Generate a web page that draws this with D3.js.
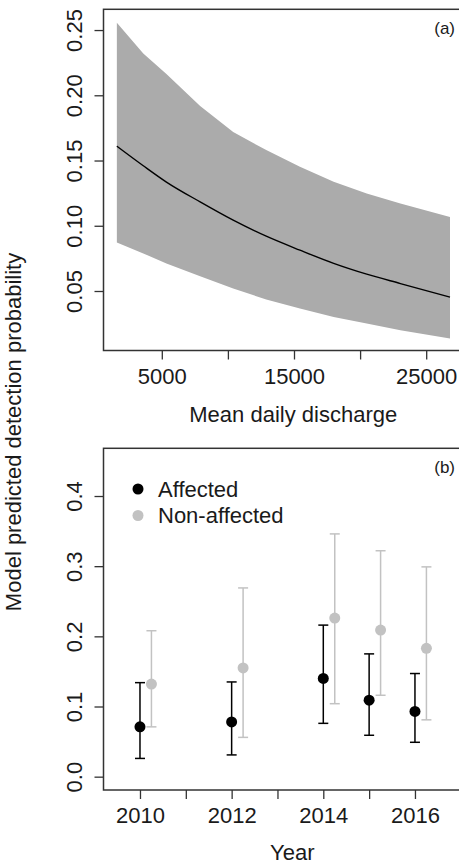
<!DOCTYPE html>
<html>
<head>
<meta charset="utf-8">
<script src="https://cdnjs.cloudflare.com/ajax/libs/d3/7.8.5/d3.min.js"></script>
<style>
body { margin: 0; background: #fff; }
svg { display: block; font-family: "Liberation Sans", Arial, sans-serif; }
</style>
</head>
<body>
<div id="chart"></div>
<script>
// panel (a): predicted detection vs discharge, with confidence band
var discharge = [1600, 3600, 5350, 7900, 10400, 12900, 15450, 18000, 20500, 23050, 26800];
var fitProb   = [0.161, 0.1460, 0.1335, 0.1183, 0.1043, 0.092, 0.0813, 0.0712, 0.0629, 0.0557, 0.0453];
var upperProb = [0.2556, 0.2321, 0.2163, 0.1917, 0.1718, 0.158, 0.1452, 0.1337, 0.1248, 0.1171, 0.1068];
var lowerProb = [0.0872, 0.0788, 0.0711, 0.0614, 0.0519, 0.0435, 0.0366, 0.0301, 0.0251, 0.0199, 0.0136];

var dischargeTicks  = [5000, 10000, 15000, 20000, 25000];
var dischargeLabels = [5000, 15000, 25000];
var probTicksA      = [0.05, 0.10, 0.15, 0.20, 0.25];

// panel (b): yearly estimates by group
var years         = [2010, 2012, 2014, 2015, 2016];
var affected      = [0.071, 0.078, 0.140, 0.109, 0.093];
var affectedLo    = [0.026, 0.031, 0.076, 0.059, 0.049];
var affectedHi    = [0.134, 0.135, 0.216, 0.175, 0.147];
var nonAffected   = [0.132, 0.155, 0.226, 0.209, 0.183];
var nonAffectedLo = [0.071, 0.056, 0.104, 0.116, 0.081];
var nonAffectedHi = [0.208, 0.269, 0.346, 0.322, 0.299];

var yearTicks   = [2010, 2011, 2012, 2013, 2014, 2015, 2016];
var yearLabels  = [2010, 2012, 2014, 2016];
var probTicksB  = [0.0, 0.1, 0.2, 0.3, 0.4];
var groupNames  = ["Affected", "Non-affected"];

var svgWidth = 459;
var svgHeight = 864;

var plotLeft = 103.5;
var plotRight = 485;
var plotWidth = plotRight - plotLeft;

var panelA = { top: 9.3, bottom: 350.5 };
var panelB = { top: 448.3, bottom: 790 };

var ink = "#1a1a1a";
var bandColor = "#ababab";
var greyColor = "#c2c2c2";
var fontFamily = "'Liberation Sans', Arial, sans-serif";

var svg = d3.select("#chart")
    .append("svg")
    .attr("width", svgWidth)
    .attr("height", svgHeight);

function styleAxis(g) {
    g.select(".domain").remove();
    g.attr("font-size", 22).attr("font-family", fontFamily);
    g.selectAll(".tick line").attr("stroke", "#333").attr("stroke-width", 1.3);
    g.selectAll(".tick text").attr("fill", ink);
}

// ---------- panel (a) ----------
var hA = panelA.bottom - panelA.top;
var gA = svg.append("g")
    .attr("transform", `translate(${plotLeft}, ${panelA.top})`);

var xA = d3.scaleLinear()
    .domain([590, 590 + plotWidth / 0.01322])
    .range([0, plotWidth]);

var yA = d3.scaleLinear()
    .domain([0.0044, 0.2659])
    .range([hA, 0]);

var band = d3.area()
    .x((d, i) => xA(discharge[i]))
    .y0((d, i) => yA(lowerProb[i]))
    .y1((d, i) => yA(upperProb[i]));

gA.append("path")
    .datum(discharge)
    .attr("d", band)
    .attr("fill", bandColor);

var fitLine = d3.line()
    .x((d, i) => xA(discharge[i]))
    .y((d, i) => yA(fitProb[i]))
    .curve(d3.curveMonotoneX);

gA.append("path")
    .datum(discharge)
    .attr("d", fitLine)
    .attr("fill", "none")
    .attr("stroke", "#000")
    .attr("stroke-width", 1.4);

gA.append("g")
    .attr("transform", `translate(0, ${hA})`)
    .call(d3.axisBottom(xA)
        .tickValues(dischargeTicks)
        .tickSizeInner(9)
        .tickSizeOuter(0)
        .tickPadding(9)
        .tickFormat(d => dischargeLabels.includes(d) ? d : ""))
    .call(styleAxis);

gA.append("g")
    .call(d3.axisLeft(yA)
        .tickValues(probTicksA)
        .tickSizeInner(9)
        .tickSizeOuter(0)
        .tickFormat(d3.format(".2f")))
    .call(styleAxis)
    .selectAll(".tick text")
    .attr("x", 0)
    .attr("dy", 0)
    .attr("text-anchor", "middle")
    .attr("transform", "translate(-22, 0) rotate(-90)");

gA.append("rect")
    .attr("width", plotWidth)
    .attr("height", hA)
    .attr("fill", "none")
    .attr("stroke", "#333")
    .attr("stroke-width", 1.5);

gA.append("text")
    .attr("x", 455 - plotLeft)
    .attr("y", 24.7)
    .attr("text-anchor", "end")
    .attr("font-size", 17)
    .attr("fill", ink)
    .text("(a)");

svg.append("text")
    .attr("x", (plotLeft + plotRight) / 2 - 1)
    .attr("y", panelA.bottom + 71)
    .attr("text-anchor", "middle")
    .attr("font-size", 22)
    .attr("fill", ink)
    .text("Mean daily discharge");

// ---------- panel (b) ----------
var hB = panelB.bottom - panelB.top;
var gB = svg.append("g")
    .attr("transform", `translate(${plotLeft}, ${panelB.top})`);

var xB = d3.scaleLinear()
    .domain([2009.204, 2009.204 + plotWidth / 45.83])
    .range([0, plotWidth]);

var yB = d3.scaleLinear()
    .domain([-0.019, 0.468])
    .range([hB, 0]);

var dodge = 0.25;
var capHalf = 5;

var groups = [
    { name: groupNames[1], color: greyColor, shift: dodge, mid: nonAffected, lo: nonAffectedLo, hi: nonAffectedHi },
    { name: groupNames[0], color: "#000", shift: 0, mid: affected, lo: affectedLo, hi: affectedHi }
];

groups.forEach(function(grp) {
    var gg = gB.append("g");
    var bars = gg.selectAll(".bar")
        .data(years)
        .enter()
        .append("g")
        .attr("class", "bar")
        .attr("stroke", grp.color)
        .attr("stroke-width", 1.5);

    bars.append("line")
        .attr("x1", d => xB(d + grp.shift))
        .attr("x2", d => xB(d + grp.shift))
        .attr("y1", (d, i) => yB(grp.lo[i]))
        .attr("y2", (d, i) => yB(grp.hi[i]));

    bars.append("line")
        .attr("x1", d => xB(d + grp.shift) - capHalf)
        .attr("x2", d => xB(d + grp.shift) + capHalf)
        .attr("y1", (d, i) => yB(grp.hi[i]))
        .attr("y2", (d, i) => yB(grp.hi[i]));

    bars.append("line")
        .attr("x1", d => xB(d + grp.shift) - capHalf)
        .attr("x2", d => xB(d + grp.shift) + capHalf)
        .attr("y1", (d, i) => yB(grp.lo[i]))
        .attr("y2", (d, i) => yB(grp.lo[i]));

    gg.selectAll("circle")
        .data(years)
        .enter()
        .append("circle")
        .attr("cx", d => xB(d + grp.shift))
        .attr("cy", (d, i) => yB(grp.mid[i]))
        .attr("r", 5.5)
        .attr("fill", grp.color);
});

gB.append("g")
    .attr("transform", `translate(0, ${hB})`)
    .call(d3.axisBottom(xB)
        .tickValues(yearTicks)
        .tickSizeInner(9)
        .tickSizeOuter(0)
        .tickPadding(8)
        .tickFormat(d => yearLabels.includes(d) ? d : ""))
    .call(styleAxis);

gB.append("g")
    .call(d3.axisLeft(yB)
        .tickValues(probTicksB)
        .tickSizeInner(9)
        .tickSizeOuter(0)
        .tickFormat(d3.format(".1f")))
    .call(styleAxis)
    .selectAll(".tick text")
    .attr("x", 0)
    .attr("dy", 0)
    .attr("text-anchor", "middle")
    .attr("transform", "translate(-22, 0) rotate(-90)");

gB.append("rect")
    .attr("width", plotWidth)
    .attr("height", hB)
    .attr("fill", "none")
    .attr("stroke", "#333")
    .attr("stroke-width", 1.5);

gB.append("text")
    .attr("x", 455 - plotLeft)
    .attr("y", 24.7)
    .attr("text-anchor", "end")
    .attr("font-size", 17)
    .attr("fill", ink)
    .text("(b)");

// legend
var legend = gB.selectAll(".legend")
    .data(groupNames)
    .enter()
    .append("g")
    .attr("class", "legend")
    .attr("transform", (d, i) => `translate(${138 - plotLeft}, ${40.7 + i * 26.5})`);

legend.append("circle")
    .attr("r", 5.5)
    .attr("fill", (d, i) => i === 0 ? "#000" : greyColor);

legend.append("text")
    .attr("x", 20)
    .attr("y", 7.7)
    .attr("font-size", 22)
    .attr("fill", ink)
    .text(d => d);

svg.append("text")
    .attr("x", (plotLeft + plotRight) / 2 - 2)
    .attr("y", panelB.bottom + 69.5)
    .attr("text-anchor", "middle")
    .attr("font-size", 22)
    .attr("fill", ink)
    .text("Year");

// shared y-axis title
svg.append("text")
    .attr("transform", "translate(20.5, 432) rotate(-90)")
    .attr("text-anchor", "middle")
    .attr("font-size", 22)
    .attr("fill", ink)
    .text("Model predicted detection probability");
</script>
</body>
</html>
